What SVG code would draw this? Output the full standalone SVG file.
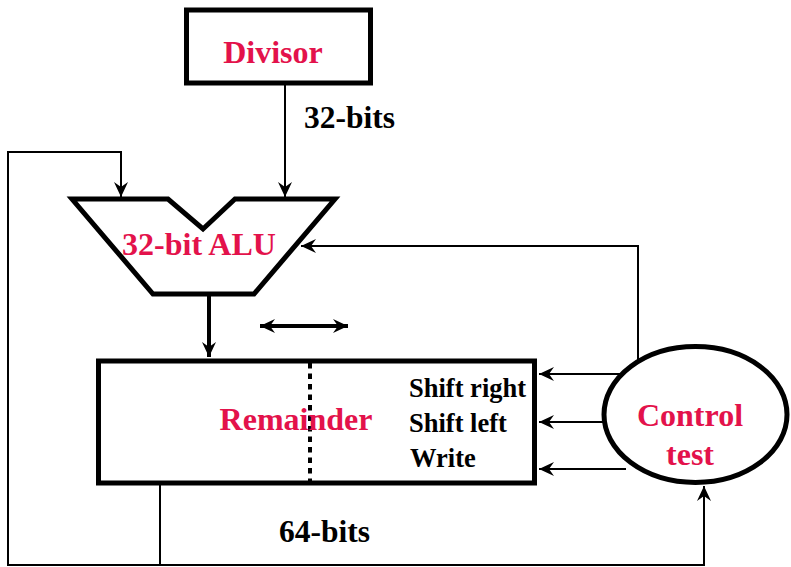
<svg xmlns="http://www.w3.org/2000/svg" width="791" height="567" viewBox="0 0 791 567">
<style>
.lbl{font-family:"Liberation Serif","Times New Roman",serif;font-weight:bold}
.red{fill:#E3124B;font-size:32px}
.blk{fill:#000}
.shape{fill:#fff;stroke:#000;stroke-width:5}
.wire{fill:none;stroke:#000;stroke-width:2}
</style>
<defs>
<marker id="ah" viewBox="0 0 15 14" refX="15" refY="7" markerWidth="15" markerHeight="14" markerUnits="userSpaceOnUse" orient="auto-start-reverse">
<path d="M0,0 L15,7 L0,14 L5,7 z" fill="#000"/>
</marker>
</defs>
<rect width="791" height="567" fill="#fff"/>
<g id="connectors">
<path class="wire" d="M285,84 V197" marker-end="url(#ah)"/>
<path class="wire" d="M160,485 V565 H8 V152 H121 V197" marker-end="url(#ah)"/>
<path class="wire" d="M160,565 H704 V486" marker-end="url(#ah)"/>
<path class="wire" d="M638,361 V246 H301" marker-end="url(#ah)"/>
<path class="wire" d="M626,374 H539" marker-end="url(#ah)"/>
<path class="wire" d="M603,422 H539" marker-end="url(#ah)"/>
<path class="wire" d="M626,469 H539" marker-end="url(#ah)"/>
<path fill="none" stroke="#000" stroke-width="4" d="M209,295 V357" marker-end="url(#ah)"/>
<path fill="none" stroke="#000" stroke-width="4" d="M260,326 H348" marker-start="url(#ah)" marker-end="url(#ah)"/>
</g>
<g id="divisor">
<rect class="shape" x="186.5" y="10" width="184" height="73"/>
<text class="lbl red" x="273" y="63" text-anchor="middle">Divisor</text>
</g>
<text class="lbl blk" x="304" y="128" font-size="31.5">32-bits</text>
<g id="alu">
<path class="shape" d="M72,199 H168 L203,229 L235,199 H335 L254,294 H153 Z" stroke-linejoin="miter"/>
<text class="lbl red" x="199" y="255" text-anchor="middle">32-bit ALU</text>
</g>
<g id="remainder">
<rect class="shape" x="98.5" y="361" width="436" height="122"/>
<line x1="310" y1="363" x2="310" y2="482" stroke="#000" stroke-width="4" stroke-dasharray="5.5 5"/>
<text class="lbl red" x="296" y="430" text-anchor="middle">Remainder</text>
<text class="lbl blk" x="409" y="397" font-size="26.5">Shift right</text>
<text class="lbl blk" x="409" y="432" font-size="26.5">Shift left</text>
<text class="lbl blk" x="410" y="467" font-size="26.5">Write</text>
</g>
<text class="lbl blk" x="279" y="542" font-size="31.5">64-bits</text>
<g id="control">
<ellipse class="shape" cx="695.5" cy="414.5" rx="91.5" ry="68"/>
<text class="lbl red" x="690" y="426" text-anchor="middle">Control</text>
<text class="lbl red" x="690" y="465" text-anchor="middle">test</text>
</g>
</svg>
